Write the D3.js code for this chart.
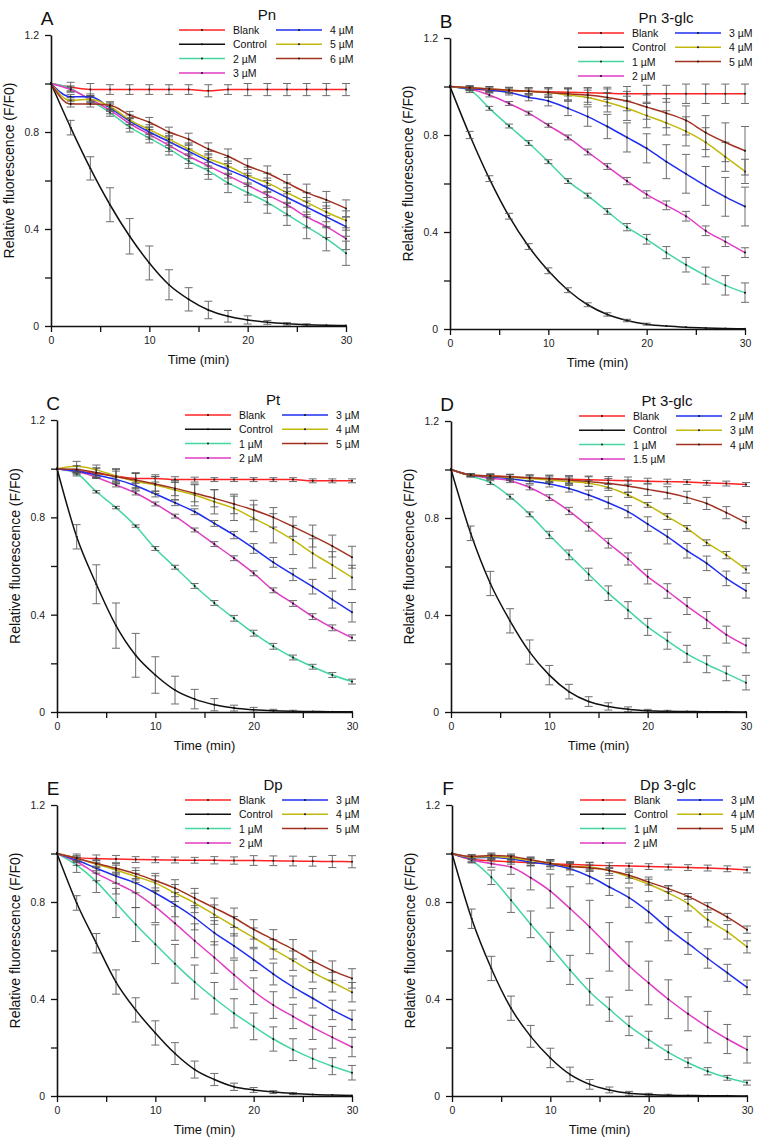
<!DOCTYPE html>
<html>
<head>
<meta charset="utf-8">
<script src="https://cdn.jsdelivr.net/npm/d3@7"></script>
<style>
  body { margin: 0; background: #fff; }
  svg { font-family: Arial, "Liberation Sans", sans-serif; }
</style>
</head>
<body>
<svg id="fig" width="767" height="1143"></svg>
<script>
// time points (min)
const times = [0, 2, 4, 6, 8, 10, 12, 14, 16, 18, 20, 22, 24, 26, 28, 30];

const seriesColors = ["#ff2222", "#111111", "#45d6a0", "#e03cc4", "#1f2ff0", "#c2b80c", "#a2321f"];

// legend labels for each panel
const pnLabels = ["Blank", "Control", "2 µM", "3 µM", "4 µM", "5 µM", "6 µM"];
const pn3Labels = ["Blank", "Control", "1 µM", "2 µM", "3 µM", "4 µM", "5 µM"];
const ptLabels = ["Blank", "Control", "1 µM", "2 µM", "3 µM", "4 µM", "5 µM"];
const pt3Labels = ["Blank", "Control", "1 µM", "1.5 µM", "2 µM", "3 µM", "4 µM"];
const dpLabels = ["Blank", "Control", "1 µM", "2 µM", "3 µM", "4 µM", "5 µM"];
const dp3Labels = ["Blank", "Control", "1 µM", "2 µM", "3 µM", "4 µM", "5 µM"];

// mean F/F0, one row per legend entry
const pnMean = [
  [1.0, 0.985, 0.975, 0.975, 0.975, 0.975, 0.975, 0.975, 0.97, 0.975, 0.975, 0.975, 0.975, 0.975, 0.975, 0.975],
  [1.0, 0.818, 0.65, 0.5, 0.37, 0.26, 0.17, 0.11, 0.066, 0.04, 0.025, 0.015, 0.009, 0.005, 0.003, 0.002],
  [1.0, 0.98, 0.93, 0.88, 0.82, 0.775, 0.73, 0.68, 0.64, 0.59, 0.55, 0.51, 0.46, 0.41, 0.36, 0.30],
  [1.0, 0.975, 0.935, 0.89, 0.835, 0.79, 0.745, 0.70, 0.66, 0.62, 0.58, 0.54, 0.50, 0.45, 0.41, 0.36],
  [1.0, 0.945, 0.945, 0.90, 0.845, 0.80, 0.76, 0.72, 0.68, 0.645, 0.61, 0.57, 0.53, 0.49, 0.45, 0.41],
  [1.0, 0.93, 0.935, 0.905, 0.85, 0.81, 0.77, 0.73, 0.69, 0.66, 0.62, 0.59, 0.55, 0.51, 0.47, 0.435],
  [1.0, 0.915, 0.915, 0.91, 0.87, 0.84, 0.80, 0.77, 0.73, 0.70, 0.66, 0.63, 0.59, 0.55, 0.52, 0.485]
];
const pnErr = [
  [0, 0.02, 0.025, 0.02, 0.02, 0.02, 0.02, 0.02, 0.025, 0.02, 0.025, 0.025, 0.025, 0.025, 0.025, 0.025],
  [0, 0.03, 0.048, 0.07, 0.073, 0.07, 0.062, 0.048, 0.036, 0.024, 0.017, 0.008, 0.005, 0.004, 0.003, 0.003],
  [0, 0.01, 0.015, 0.015, 0.02, 0.02, 0.025, 0.03, 0.035, 0.04, 0.04, 0.045, 0.045, 0.05, 0.05, 0.05],
  [0, 0.01, 0.012, 0.015, 0.02, 0.02, 0.025, 0.03, 0.035, 0.035, 0.04, 0.04, 0.045, 0.045, 0.045, 0.045],
  [0, 0.01, 0.012, 0.015, 0.015, 0.02, 0.025, 0.03, 0.03, 0.035, 0.035, 0.04, 0.04, 0.04, 0.045, 0.04],
  [0, 0.012, 0.015, 0.015, 0.02, 0.02, 0.025, 0.025, 0.03, 0.035, 0.035, 0.04, 0.04, 0.04, 0.04, 0.04],
  [0, 0.012, 0.012, 0.015, 0.015, 0.02, 0.02, 0.025, 0.025, 0.03, 0.03, 0.03, 0.035, 0.035, 0.035, 0.035]
];

const pn3Mean = [
  [1.0, 0.99, 0.985, 0.982, 0.98, 0.978, 0.976, 0.974, 0.972, 0.97, 0.97, 0.97, 0.97, 0.97, 0.97, 0.97],
  [1.0, 0.80, 0.62, 0.465, 0.34, 0.24, 0.16, 0.10, 0.06, 0.035, 0.02, 0.012, 0.007, 0.004, 0.002, 0.001],
  [1.0, 0.985, 0.91, 0.837, 0.767, 0.69, 0.61, 0.55, 0.485, 0.42, 0.37, 0.315, 0.265, 0.22, 0.18, 0.15],
  [1.0, 0.99, 0.965, 0.93, 0.89, 0.84, 0.79, 0.73, 0.67, 0.61, 0.555, 0.51, 0.465, 0.405, 0.36, 0.315],
  [1.0, 0.992, 0.985, 0.975, 0.956, 0.94, 0.91, 0.876, 0.835, 0.79, 0.745, 0.69, 0.64, 0.59, 0.545, 0.505],
  [1.0, 0.995, 0.99, 0.985, 0.98, 0.975, 0.965, 0.955, 0.935, 0.91, 0.88, 0.85, 0.815, 0.77, 0.71, 0.65],
  [1.0, 0.995, 0.99, 0.985, 0.98, 0.975, 0.97, 0.965, 0.955, 0.94, 0.915, 0.89, 0.86, 0.81, 0.77, 0.735]
];
const pn3Err = [
  [0, 0.005, 0.005, 0.008, 0.01, 0.012, 0.015, 0.02, 0.025, 0.03, 0.035, 0.035, 0.04, 0.04, 0.04, 0.04],
  [0, 0.015, 0.012, 0.012, 0.012, 0.012, 0.01, 0.008, 0.007, 0.005, 0.004, 0.003, 0.002, 0.002, 0.002, 0.002],
  [0, 0.01, 0.008, 0.008, 0.01, 0.008, 0.01, 0.01, 0.012, 0.015, 0.02, 0.025, 0.03, 0.035, 0.04, 0.04],
  [0, 0.008, 0.008, 0.008, 0.008, 0.008, 0.01, 0.012, 0.012, 0.015, 0.015, 0.018, 0.02, 0.02, 0.02, 0.02],
  [0, 0.008, 0.01, 0.01, 0.015, 0.02, 0.03, 0.04, 0.05, 0.06, 0.06, 0.07, 0.08, 0.08, 0.08, 0.08],
  [0, 0.008, 0.01, 0.01, 0.015, 0.02, 0.025, 0.03, 0.04, 0.05, 0.05, 0.05, 0.06, 0.06, 0.06, 0.05],
  [0, 0.008, 0.01, 0.012, 0.015, 0.02, 0.025, 0.03, 0.035, 0.04, 0.05, 0.06, 0.06, 0.07, 0.08, 0.1]
];

const ptMean = [
  [1.0, 0.99, 0.98, 0.97, 0.96, 0.96, 0.955, 0.955, 0.955, 0.955, 0.955, 0.955, 0.955, 0.95, 0.95, 0.95],
  [1.0, 0.72, 0.525, 0.355, 0.233, 0.152, 0.09, 0.053, 0.03, 0.016, 0.009, 0.005, 0.003, 0.002, 0.001, 0.001],
  [1.0, 0.98, 0.905, 0.84, 0.764, 0.672, 0.595, 0.518, 0.448, 0.385, 0.324, 0.27, 0.224, 0.186, 0.152, 0.125],
  [1.0, 0.988, 0.965, 0.933, 0.9, 0.855, 0.805, 0.748, 0.69, 0.632, 0.57, 0.5, 0.446, 0.392, 0.346, 0.305],
  [1.0, 0.99, 0.974, 0.956, 0.93, 0.896, 0.86, 0.823, 0.775, 0.727, 0.672, 0.615, 0.565, 0.515, 0.462, 0.41],
  [1.0, 1.01, 0.995, 0.97, 0.947, 0.933, 0.912, 0.892, 0.864, 0.837, 0.796, 0.755, 0.707, 0.652, 0.604, 0.553],
  [1.0, 0.997, 0.984, 0.967, 0.953, 0.937, 0.919, 0.899, 0.878, 0.855, 0.83, 0.8, 0.762, 0.723, 0.682, 0.636]
];
const ptErr = [
  [0, 0.02, 0.02, 0.02, 0.02, 0.015, 0.012, 0.01, 0.008, 0.008, 0.008, 0.008, 0.008, 0.008, 0.008, 0.008],
  [0, 0.05, 0.08, 0.093, 0.09, 0.075, 0.057, 0.04, 0.025, 0.012, 0.01, 0.006, 0.004, 0.003, 0.002, 0.002],
  [0, 0.005, 0.005, 0.005, 0.005, 0.008, 0.008, 0.01, 0.01, 0.012, 0.012, 0.012, 0.01, 0.01, 0.01, 0.01],
  [0, 0.005, 0.005, 0.008, 0.008, 0.008, 0.008, 0.008, 0.01, 0.01, 0.01, 0.01, 0.012, 0.012, 0.012, 0.012],
  [0, 0.008, 0.01, 0.01, 0.012, 0.012, 0.012, 0.012, 0.012, 0.015, 0.02, 0.02, 0.025, 0.03, 0.035, 0.04],
  [0, 0.02, 0.02, 0.03, 0.035, 0.035, 0.04, 0.045, 0.05, 0.05, 0.055, 0.06, 0.06, 0.06, 0.055, 0.05],
  [0, 0.015, 0.02, 0.03, 0.03, 0.03, 0.03, 0.035, 0.035, 0.04, 0.04, 0.04, 0.04, 0.045, 0.045, 0.045]
];

const pt3Mean = [
  [1.0, 0.977, 0.973, 0.97, 0.965, 0.962, 0.96, 0.958, 0.956, 0.954, 0.952, 0.95, 0.948, 0.945, 0.942, 0.938],
  [1.0, 0.737, 0.53, 0.376, 0.247, 0.152, 0.084, 0.043, 0.023, 0.011, 0.005, 0.003, 0.002, 0.001, 0.001, 0.0],
  [1.0, 0.973, 0.946, 0.888, 0.815, 0.73, 0.648, 0.568, 0.49, 0.42, 0.351, 0.294, 0.24, 0.197, 0.159, 0.121],
  [1.0, 0.977, 0.964, 0.954, 0.926, 0.884, 0.829, 0.764, 0.696, 0.631, 0.558, 0.499, 0.437, 0.379, 0.319, 0.274],
  [1.0, 0.977, 0.97, 0.962, 0.952, 0.94, 0.922, 0.895, 0.863, 0.826, 0.775, 0.723, 0.665, 0.613, 0.551, 0.50],
  [1.0, 0.977, 0.973, 0.968, 0.963, 0.957, 0.95, 0.943, 0.926, 0.895, 0.854, 0.806, 0.757, 0.698, 0.647, 0.588],
  [1.0, 0.977, 0.973, 0.97, 0.966, 0.962, 0.957, 0.95, 0.943, 0.932, 0.918, 0.904, 0.885, 0.86, 0.822, 0.781]
];
const pt3Err = [
  [0, 0.005, 0.008, 0.01, 0.012, 0.012, 0.015, 0.015, 0.015, 0.015, 0.012, 0.01, 0.01, 0.01, 0.01, 0.008],
  [0, 0.03, 0.05, 0.05, 0.05, 0.04, 0.03, 0.02, 0.015, 0.01, 0.006, 0.004, 0.003, 0.002, 0.002, 0.001],
  [0, 0.005, 0.008, 0.01, 0.01, 0.015, 0.02, 0.025, 0.03, 0.035, 0.035, 0.035, 0.035, 0.035, 0.03, 0.03],
  [0, 0.005, 0.005, 0.008, 0.01, 0.012, 0.015, 0.018, 0.02, 0.025, 0.03, 0.03, 0.035, 0.035, 0.035, 0.03],
  [0, 0.005, 0.008, 0.008, 0.01, 0.012, 0.015, 0.02, 0.025, 0.025, 0.03, 0.03, 0.03, 0.03, 0.03, 0.03],
  [0, 0.005, 0.008, 0.01, 0.01, 0.012, 0.015, 0.012, 0.012, 0.01, 0.01, 0.012, 0.012, 0.012, 0.015, 0.015],
  [0, 0.005, 0.008, 0.01, 0.012, 0.015, 0.015, 0.02, 0.02, 0.025, 0.025, 0.025, 0.025, 0.025, 0.025, 0.025]
];

const dpMean = [
  [1.0, 0.983, 0.979, 0.977, 0.975, 0.974, 0.973, 0.972, 0.972, 0.971, 0.971, 0.97, 0.969, 0.968, 0.967, 0.966],
  [1.0, 0.796, 0.63, 0.47, 0.355, 0.26, 0.175, 0.109, 0.068, 0.038, 0.025, 0.016, 0.01, 0.006, 0.004, 0.002],
  [1.0, 0.952, 0.884, 0.796, 0.707, 0.626, 0.545, 0.47, 0.403, 0.341, 0.287, 0.235, 0.191, 0.154, 0.123, 0.096],
  [1.0, 0.966, 0.918, 0.878, 0.837, 0.78, 0.712, 0.64, 0.571, 0.5, 0.432, 0.375, 0.328, 0.283, 0.242, 0.202],
  [1.0, 0.973, 0.939, 0.907, 0.878, 0.837, 0.789, 0.735, 0.673, 0.619, 0.562, 0.503, 0.45, 0.403, 0.355, 0.314],
  [1.0, 0.98, 0.956, 0.932, 0.905, 0.878, 0.837, 0.796, 0.748, 0.70, 0.653, 0.605, 0.558, 0.51, 0.469, 0.428],
  [1.0, 0.98, 0.959, 0.939, 0.916, 0.888, 0.857, 0.816, 0.776, 0.735, 0.687, 0.646, 0.605, 0.558, 0.517, 0.485]
];
const dpErr = [
  [0, 0.015, 0.015, 0.015, 0.012, 0.012, 0.012, 0.012, 0.015, 0.015, 0.02, 0.02, 0.02, 0.02, 0.025, 0.025],
  [0, 0.03, 0.04, 0.05, 0.05, 0.05, 0.045, 0.035, 0.025, 0.015, 0.01, 0.006, 0.004, 0.003, 0.002, 0.002],
  [0, 0.03, 0.045, 0.06, 0.07, 0.08, 0.08, 0.07, 0.065, 0.06, 0.055, 0.05, 0.045, 0.04, 0.035, 0.03],
  [0, 0.015, 0.03, 0.045, 0.06, 0.065, 0.07, 0.07, 0.065, 0.06, 0.055, 0.055, 0.05, 0.05, 0.045, 0.04],
  [0, 0.01, 0.02, 0.03, 0.04, 0.05, 0.05, 0.05, 0.05, 0.05, 0.045, 0.045, 0.045, 0.04, 0.04, 0.04],
  [0, 0.01, 0.015, 0.02, 0.025, 0.03, 0.035, 0.04, 0.04, 0.04, 0.04, 0.04, 0.04, 0.04, 0.04, 0.04],
  [0, 0.01, 0.015, 0.02, 0.025, 0.03, 0.035, 0.04, 0.04, 0.04, 0.04, 0.04, 0.04, 0.04, 0.04, 0.04]
];

const dp3Mean = [
  [1.0, 0.976, 0.97, 0.966, 0.962, 0.958, 0.955, 0.952, 0.95, 0.948, 0.946, 0.944, 0.942, 0.94, 0.937, 0.932],
  [1.0, 0.731, 0.526, 0.362, 0.246, 0.157, 0.089, 0.048, 0.025, 0.011, 0.006, 0.003, 0.002, 0.001, 0.001, 0.0],
  [1.0, 0.971, 0.902, 0.807, 0.708, 0.615, 0.52, 0.43, 0.358, 0.289, 0.232, 0.18, 0.137, 0.102, 0.075, 0.055],
  [1.0, 0.974, 0.958, 0.944, 0.9, 0.845, 0.773, 0.697, 0.615, 0.536, 0.466, 0.399, 0.339, 0.284, 0.235, 0.191],
  [1.0, 0.982, 0.985, 0.978, 0.964, 0.955, 0.937, 0.905, 0.862, 0.818, 0.759, 0.69, 0.629, 0.567, 0.508, 0.448],
  [1.0, 0.985, 0.988, 0.982, 0.971, 0.96, 0.947, 0.944, 0.93, 0.903, 0.873, 0.837, 0.793, 0.727, 0.677, 0.615],
  [1.0, 0.988, 0.992, 0.988, 0.974, 0.96, 0.947, 0.941, 0.93, 0.91, 0.882, 0.855, 0.823, 0.782, 0.738, 0.686]
];
const dp3Err = [
  [0, 0.01, 0.01, 0.01, 0.01, 0.01, 0.012, 0.012, 0.012, 0.012, 0.012, 0.012, 0.012, 0.012, 0.012, 0.012],
  [0, 0.04, 0.05, 0.05, 0.045, 0.04, 0.03, 0.02, 0.012, 0.008, 0.005, 0.004, 0.003, 0.002, 0.002, 0.001],
  [0, 0.01, 0.03, 0.05, 0.055, 0.06, 0.06, 0.055, 0.05, 0.04, 0.035, 0.03, 0.02, 0.015, 0.01, 0.01],
  [0, 0.01, 0.015, 0.03, 0.05, 0.07, 0.09, 0.11, 0.1, 0.1, 0.09, 0.08, 0.07, 0.065, 0.06, 0.055],
  [0, 0.008, 0.01, 0.015, 0.015, 0.02, 0.025, 0.03, 0.035, 0.04, 0.045, 0.05, 0.045, 0.04, 0.035, 0.03],
  [0, 0.008, 0.01, 0.01, 0.012, 0.015, 0.015, 0.018, 0.02, 0.025, 0.03, 0.03, 0.03, 0.03, 0.03, 0.025],
  [0, 0.008, 0.01, 0.01, 0.012, 0.012, 0.012, 0.012, 0.012, 0.012, 0.012, 0.012, 0.012, 0.015, 0.015, 0.015]
];

// panel frames in page pixels (left = t 0, right = t 30, bottom = 0, top = 1.2)
const panels = [
  { letter: "A", title: "Pn",       labels: pnLabels,  mean: pnMean,  err: pnErr,  left: 51,  right: 346, bottom: 326,  top: 35 },
  { letter: "B", title: "Pn 3-glc", labels: pn3Labels, mean: pn3Mean, err: pn3Err, left: 450, right: 745, bottom: 329,  top: 38 },
  { letter: "C", title: "Pt",       labels: ptLabels,  mean: ptMean,  err: ptErr,  left: 57,  right: 352, bottom: 712,  top: 420 },
  { letter: "D", title: "Pt 3-glc", labels: pt3Labels, mean: pt3Mean, err: pt3Err, left: 451, right: 746, bottom: 712,  top: 421 },
  { letter: "E", title: "Dp",       labels: dpLabels,  mean: dpMean,  err: dpErr,  left: 57,  right: 352, bottom: 1096, top: 805 },
  { letter: "F", title: "Dp 3-glc", labels: dp3Labels, mean: dp3Mean, err: dp3Err, left: 452, right: 747, bottom: 1096, top: 805 }
];

const svg = d3.select("#fig");

function drawPanel(p) {
  const g = svg.append("g");

  const x = d3.scaleLinear().domain([0, 30]).range([p.left, p.right]);
  const y = d3.scaleLinear().domain([0, 1.2]).range([p.bottom, p.top]);

  // series lines
  const lineGen = d3.line()
    .x((d) => x(d.t))
    .y((d) => y(d.v))
    .curve(d3.curveMonotoneX);

  p.mean.forEach((vals, i) => {
    const pts = times.map((t, k) => ({ t: t, v: vals[k], e: p.err[i][k] }));

    g.append("path")
      .datum(pts)
      .attr("fill", "none")
      .attr("stroke", seriesColors[i])
      .attr("stroke-width", 1.5)
      .attr("d", lineGen);

    // error bars
    const eb = g.append("g")
      .attr("stroke", "#555")
      .attr("stroke-width", 1)
      .attr("opacity", 0.85);
    pts.filter((d) => d.e > 0.003).forEach((d) => {
      const cx = x(d.t);
      eb.append("line").attr("x1", cx).attr("x2", cx)
        .attr("y1", y(d.v - d.e)).attr("y2", y(d.v + d.e));
      eb.append("line").attr("x1", cx - 4).attr("x2", cx + 4)
        .attr("y1", y(d.v - d.e)).attr("y2", y(d.v - d.e));
      eb.append("line").attr("x1", cx - 4).attr("x2", cx + 4)
        .attr("y1", y(d.v + d.e)).attr("y2", y(d.v + d.e));
    });

    g.append("g").selectAll("circle")
      .data(pts)
      .join("circle")
      .attr("cx", (d) => x(d.t))
      .attr("cy", (d) => y(d.v))
      .attr("r", 1)
      .attr("fill", "#111");
  });

  // axes
  const yAxis = d3.axisLeft(y)
    .tickValues([0, 0.2, 0.4, 0.6, 0.8, 1.0, 1.2])
    .tickFormat((d) => (Math.round(d * 10) % 4 === 0 ? d3.format("")(+d.toFixed(1)) : ""))
    .tickSize(6)
    .tickSizeOuter(0)
    .tickPadding(6);
  const xAxis = d3.axisBottom(x)
    .tickValues([0, 5, 10, 15, 20, 25, 30])
    .tickFormat((d) => (d % 10 === 0 ? d : ""))
    .tickSize(6)
    .tickSizeOuter(0)
    .tickPadding(5);

  const ya = g.append("g").attr("transform", `translate(${p.left},0)`).call(yAxis);
  const xa = g.append("g").attr("transform", `translate(0,${p.bottom})`).call(xAxis);
  [ya, xa].forEach((a) => {
    a.select(".domain").attr("stroke", "#111").attr("stroke-width", 1.6);
    a.selectAll(".tick line").attr("stroke", "#111").attr("stroke-width", 1.3);
    a.selectAll(".tick text").attr("fill", "#222").style("font-size", "10.5px")
      .style("font-family", "Arial, 'Liberation Sans', sans-serif");
  });

  // axis titles
  g.append("text")
    .attr("x", (p.left + p.right) / 2)
    .attr("y", p.bottom + 38)
    .attr("text-anchor", "middle")
    .attr("font-size", 13)
    .attr("fill", "#111")
    .text("Time (min)");
  g.append("text")
    .attr("transform", `translate(${p.left - 37},${(p.top + p.bottom) / 2 - 10}) rotate(-90)`)
    .attr("text-anchor", "middle")
    .attr("font-size", 14)
    .attr("fill", "#111")
    .text("Relative fluorescence (F/F0)");

  // panel letter and title
  g.append("text")
    .attr("x", p.left - 4)
    .attr("y", p.top - 10)
    .attr("text-anchor", "middle")
    .attr("font-size", 19)
    .attr("fill", "#111")
    .text(p.letter);
  g.append("text")
    .attr("x", p.right - 79)
    .attr("y", p.top - 15)
    .attr("text-anchor", "middle")
    .attr("font-size", 15)
    .attr("fill", "#111")
    .text(p.title);

  // legend: 4 rows left column, 3 rows right column
  p.labels.forEach((lab, i) => {
    const col = i < 4 ? 0 : 1;
    const row = i < 4 ? i : i - 4;
    const lx = p.right + (col === 0 ? -167 : -70);
    const ly = p.top - 5 + row * 14.3;
    g.append("line")
      .attr("x1", lx).attr("x2", lx + 46)
      .attr("y1", ly).attr("y2", ly)
      .attr("stroke", seriesColors[i])
      .attr("stroke-width", 1.5);
    g.append("circle")
      .attr("cx", lx + 23).attr("cy", ly).attr("r", 1)
      .attr("fill", "#111");
    g.append("text")
      .attr("x", lx + 54)
      .attr("y", ly + 4)
      .attr("font-size", 10.5)
      .attr("fill", "#111")
      .text(lab);
  });
}

panels.forEach(drawPanel);
</script>
</body>
</html>
